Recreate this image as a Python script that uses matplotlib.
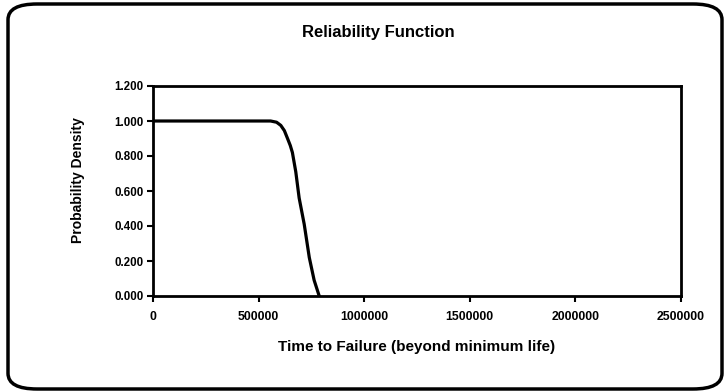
import matplotlib
matplotlib.use("Agg")
import matplotlib.pyplot as plt
from matplotlib.patches import FancyBboxPatch

# Reliability curve
time_vals = [0, 250000, 557000, 585000, 605000, 622000, 637000, 650000, 660000,
             676000, 692000, 716000, 740000, 763000, 787000]
reliability = [1.0, 1.0, 1.0, 0.993, 0.975, 0.945, 0.9, 0.86, 0.82,
               0.71, 0.56, 0.41, 0.22, 0.09, 0.0]

x_ticks = [0, 500000, 1000000, 1500000, 2000000, 2500000]
y_ticks = [0.0, 0.2, 0.4, 0.6, 0.8, 1.0, 1.2]

plt.rcParams["font.family"] = ["Liberation Sans", "DejaVu Sans"]
plt.rcParams["font.weight"] = "bold"

fig = plt.figure(figsize=(7.26, 3.92), dpi=100)
ax = fig.add_axes([153 / 726, 1 - 296 / 392, (681 - 153) / 726, (296 - 86) / 392])

ax.plot(time_vals, reliability, color="black", lw=2.3, solid_joinstyle="round")
ax.set_xlim(0, 2500000)
ax.set_ylim(0, 1.2)
ax.set_xticks(x_ticks)
ax.set_xticklabels([str(v) for v in x_ticks], fontsize=8.8, fontweight="bold")
ax.set_yticks(y_ticks)
ax.set_yticklabels([f"{v:.3f}" for v in y_ticks], fontsize=8.3, fontweight="bold")
ax.tick_params(axis="x", direction="out", length=4, width=1.5, pad=7)
ax.tick_params(axis="y", direction="out", length=4, width=1.5, pad=3)
for s in ax.spines.values():
    s.set_linewidth(2)

ax.set_xlabel("Time to Failure (beyond minimum life)", fontsize=11,
              fontweight="bold", labelpad=12)
ax.set_ylabel("Probability Density", fontsize=10, fontweight="bold")
ax.yaxis.set_label_coords(-0.128, 0.55)
fig.text(0.521, 1 - 33 / 392, "Reliability Function", ha="center", va="center",
         fontsize=12, fontweight="bold")

# rounded frame around the chart area
frame = FancyBboxPatch((8 / 726, 3 / 392), 714 / 726, 385 / 392,
                       boxstyle="round,pad=0,rounding_size=0.04",
                       transform=fig.transFigure, fill=False,
                       edgecolor="black", lw=2.5)
fig.patches.append(frame)

fig.savefig("out.png", dpi=100)
